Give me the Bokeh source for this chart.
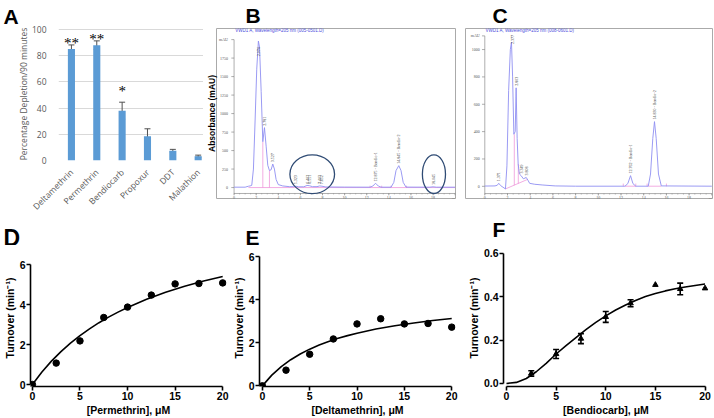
import numpy as np
from bokeh.plotting import figure
from bokeh.models import (Range1d, FixedTicker, ColumnDataSource, Whisker, Label,
                          TeeHead, NumeralTickFormatter, Title)
from bokeh.layouts import row, column
from bokeh.embed import file_html
from bokeh.resources import INLINE

# ---------------- Panel A data ----------------
insecticides = ["Deltamethrin", "Permethrin", "Bendiocarb", "Propoxur", "DDT", "Malathion"]
depletion = [85.0, 88.0, 38.0, 18.5, 7.5, 3.3]
depletion_err = [3.2, 3.3, 6.5, 5.7, 1.0, 0.8]
significance = ["**", "**", "*", "", "", ""]
depletion_ticks = [0, 20, 40, 60, 80, 100]

# ---------------- Panel B chromatogram ----------------
b_time = [0, 1.0, 1.3, 1.45, 1.6, 1.75, 1.9, 2.05, 2.2, 2.3, 2.45, 2.6, 2.75, 2.9, 3.05,
          3.2, 3.35, 3.5, 3.65, 3.8, 4.0, 4.4, 5.0, 5.4, 5.6, 5.85, 6.3, 6.6, 6.8, 7.1,
          7.5, 7.75, 7.95, 8.3, 10.0, 12.3, 12.55, 12.8, 13.05, 13.3, 14.2, 14.45, 14.65,
          14.9, 15.1, 15.3, 15.55, 17.7, 18.0, 18.3, 20.0]
b_abs = [5, 5, 18, 22, 30, 250, 900, 1600, 1980, 1900, 1300, 620, 810, 560, 300,
         230, 240, 318, 250, 110, 40, 22, 12, 12, 18, 10, 10, 28, 25, 12,
         12, 22, 18, 8, 6, 5, 20, 58, 20, 5, 5, 70, 230,
         296, 230, 70, 6, 5, 10, 5, 5]
b_peak_time = [2.2, 2.75, 3.5, 5.6, 6.6, 6.8, 7.75, 7.95, 12.8, 14.9, 18.0]
b_peak_abs = [1980, 810, 318, 18, 28, 25, 22, 18, 58, 296, 10]
b_peak_label = ["2.074", "2.781", "3.527", "5.323", "6.402", "6.551", "7.403", "7.652",
                "12.875 - Bendio-1", "14.845 - Bendio-2", "18.045"]
b_yticks = [0, 250, 500, 750, 1000, 1250, 1500, 1750, 2000]
b_ytick_labels = ["0", "250", "500", "750", "1000", "1250", "1500", "1750", "mAU"]
b_xticks = [0, 2, 4, 6, 8, 10, 12, 14, 16, 18, 20]
b_xtick_labels = ["0", "2", "4", "6", "8", "10", "12", "14", "16", "18", "min"]
b_pink_x0 = [1.3, 2.6, 3.2, 12.3, 13.35, 14.2, 15.6]
b_pink_y0 = [0, 0, 0, 0, 0, 0, 0]
b_pink_x1 = [20.0, 2.6, 3.2, 12.3, 13.35, 14.2, 15.6]
b_pink_y1 = [0, 620, 230, 25, 25, 25, 25]
b_circle_time = [7.07, 18.08]
b_circle_abs = [181, 181]
b_circle_w = [4.04, 2.09]
b_circle_h = [524, 524]

# ---------------- Panel C chromatogram ----------------
c_time = [0, 0.9, 1.1, 1.23, 1.4, 1.82, 1.95, 2.1, 2.25, 2.35, 2.45, 2.56, 2.68, 2.76,
          2.85, 2.94, 3.05, 3.2, 3.4, 3.65, 3.8, 3.95, 4.4, 5.05, 6.2, 8.0, 12.35, 12.6,
          12.84, 13.05, 13.3, 14.4, 14.6, 14.8, 14.95, 15.1, 15.3, 15.55, 20.0]
c_abs = [2, 3, 8, 22, 5, -19, 150, 700, 1000, 1055, 800, 381, 400, 720,
         350, 163, 90, 78, 55, 65, 45, 22, 15, 10, 3, 1, 1, 20,
         78, 20, 1, 1, 90, 350, 473, 350, 90, 3, 1]
c_peak_time = [1.23, 2.45, 2.76, 3.2, 3.65, 12.84, 14.95]
c_peak_abs = [22, 1055, 720, 78, 65, 78, 473]
c_peak_label = ["1.371", "2.377", "2.803", "3.349", "3.808",
                "12.762 - Bendio-1", "14.830 - Bendio-2"]
c_yticks = [0, 200, 400, 600, 800, 1000, 1100]
c_ytick_labels = ["0", "200", "400", "600", "800", "1000", "mAU"]
c_xticks = [0, 2, 4, 6, 8, 10, 12, 14, 16, 18, 20]
c_xtick_labels = ["0", "2", "4", "6", "8", "10", "12", "14", "16", "18", "min"]
c_pink_x0 = [1.82, 2.6, 2.95, 12.2, 13.3, 14.3, 16.0, 12.35, 14.4]
c_pink_y0 = [-19, 8, 20, 0, 0, 0, 0, 1, 1]
c_pink_x1 = [3.75, 2.6, 2.95, 12.2, 13.3, 14.3, 16.0, 13.3, 15.55]
c_pink_y1 = [50, 381, 163, 20, 20, 20, 20, 1, 1]

# ---------------- Panels D, E, F ----------------
conc = [0, 2.5, 5, 7.5, 10, 12.5, 15, 17.5, 20]
perm_turnover = [0, 1.07, 2.18, 3.35, 3.87, 4.47, 5.03, 5.05, 5.08]
fit_conc = [0, 1, 2, 3, 4, 5, 6, 7, 8, 9, 10, 12, 14, 16, 18, 20]
perm_fit = [0, 0.624, 1.168, 1.645, 2.069, 2.446, 2.785, 3.09, 3.367, 3.62, 3.851,
            4.259, 4.607, 4.908, 5.171, 5.403]
delta_turnover = [0, 0.73, 1.47, 2.18, 2.88, 3.12, 2.88, 2.90, 2.73]
delta_fit = [0, 0.498, 0.894, 1.215, 1.482, 1.707, 1.898, 2.064, 2.209, 2.336, 2.449,
             2.641, 2.797, 2.926, 3.036, 3.130]
bend_conc = [2.5, 5, 7.5, 10, 12.5, 15, 17.5, 20]
bend_turnover = [0.046, 0.136, 0.207, 0.307, 0.370, 0.455, 0.436, 0.439]
bend_err = [0.013, 0.021, 0.023, 0.025, 0.016, 0.0, 0.027, 0.0]
bend_fit_conc = [0, 1, 2, 3, 4, 5, 6, 7, 8, 9, 10, 11, 12, 13, 14, 15, 16, 17, 18, 19, 20]
bend_fit = [0, 0.005, 0.023, 0.054, 0.093, 0.136, 0.175, 0.212, 0.248, 0.282, 0.312,
            0.339, 0.362, 0.383, 0.401, 0.415, 0.427, 0.437, 0.445, 0.452, 0.459]
conc_ticks = [0, 5, 10, 15, 20]
turnover_ticks = [0, 2, 4, 6]
bend_ticks = [0, 0.2, 0.4, 0.6]


def make_fig(width, height, xr, yr, mb, letter=None, offset=0, standoff=0,
             xloc="below", yloc="left"):
    title = None
    if letter is not None:
        title = Title(text=letter, align="left", offset=offset, standoff=standoff,
                      text_font="Liberation Sans", text_font_style="bold",
                      text_font_size="21px", text_color="black")
    p = figure(width=width, height=height, x_range=Range1d(*xr), y_range=Range1d(*yr),
               output_backend="svg", toolbar_location=None, title=title,
               x_axis_location=xloc, y_axis_location=yloc,
               min_border_left=mb[0], min_border_right=mb[1],
               min_border_top=mb[2], min_border_bottom=mb[3])
    p.background_fill_color = "white"
    p.border_fill_color = "white"
    return p


# ================= Panel A =================
A_W, A_H, A_MB = 203, 218, (58, 0, 27, 57)
pa = make_fig(A_W, A_H, (-0.51, 5.21), (0, 101.5), A_MB, "A", -55, 0)
a_x = list(range(len(insecticides)))
pa.outline_line_color = None
pa.xgrid.grid_line_color = None
pa.ygrid.grid_line_color = "#d9d9d9"
pa.ygrid.ticker = FixedTicker(ticks=depletion_ticks)
pa.yaxis.ticker = FixedTicker(ticks=depletion_ticks)
pa.xaxis.ticker = FixedTicker(ticks=a_x)
pa.xaxis.major_label_overrides = {i: n for i, n in enumerate(insecticides)}
pa.xaxis.major_label_orientation = np.pi / 4
for ax in (pa.xaxis[0], pa.yaxis[0]):
    ax.axis_line_color = None
    ax.major_tick_line_color = None
    ax.minor_tick_line_color = None
    ax.major_label_text_font = "Open Sans"
    ax.major_label_text_color = "#595959"
pa.yaxis.major_label_text_font_size = "8.5px"
pa.xaxis.major_label_text_font_size = "8.5px"
pa.yaxis.major_label_standoff = 6
pa.xaxis.major_label_standoff = 4
pa.yaxis.axis_label = "Percentage Depletion/90 minutes"
pa.yaxis.axis_label_text_font = "Open Sans"
pa.yaxis.axis_label_text_font_style = "normal"
pa.yaxis.axis_label_text_font_size = "8.5px"
pa.yaxis.axis_label_text_color = "#595959"
pa.yaxis.axis_label_standoff = 0
pa.vbar(x=a_x, top=depletion, width=0.28, fill_color="#5b9bd5", line_color=None)
a_upper = [v + e for v, e in zip(depletion, depletion_err)]
a_src = ColumnDataSource(dict(
    x=a_x, upper=a_upper,
    lower=[v - e for v, e in zip(depletion, depletion_err)]))
pa.add_layout(Whisker(source=a_src, base="x", upper="upper", lower="lower",
                      line_color="#505050", line_width=1,
                      upper_head=TeeHead(size=6, line_color="#505050", line_width=1),
                      lower_head=TeeHead(size=6, line_color="#505050", line_width=1)))
# significance marks sit a little above each error bar
pa.text(x=a_x, y=[u + 0.15 * (100 - u) for u in a_upper], text=significance,
        text_align="center", text_baseline="middle", text_font_size="15px",
        text_font="Liberation Sans", text_color="black")


# ================= chromatogram helpers =================
def inner_axes(p, xticks, xlabels, yticks, ylabels, axis_y, tlx, tly, ldx, ldy):
    gray = "#777777"
    n = len(yticks)
    p.segment(x0=[0], y0=[axis_y], x1=[0], y1=[yticks[-1]], line_color=gray, line_width=0.6)
    p.segment(x0=[-tlx] * n, y0=yticks, x1=[0] * n, y1=yticks, line_color=gray, line_width=0.6)
    p.text(x=[-ldx] * n, y=yticks, text=ylabels, text_align="right", text_baseline="middle",
           text_font_size="4px", text_color="#555555", text_font="Liberation Sans")
    p.segment(x0=[0], y0=[axis_y], x1=[xticks[-1]], y1=[axis_y], line_color=gray, line_width=0.6)
    minor = np.arange(0, xticks[-1] + 0.01, 0.5)
    p.segment(x0=minor, y0=[axis_y] * len(minor), x1=minor, y1=[axis_y - tly * 0.5] * len(minor),
              line_color=gray, line_width=0.5)
    m = len(xticks)
    p.segment(x0=xticks, y0=[axis_y] * m, x1=xticks, y1=[axis_y - tly] * m,
              line_color=gray, line_width=0.6)
    p.text(x=xticks, y=[axis_y - ldy] * m, text=xlabels, text_align="center", text_baseline="top",
           text_font_size="4px", text_color="#555555", text_font="Liberation Sans")


TRACE = "#8f8ff2"
PINK = "#ec8ad6"

# ================= Panel B =================
B_W, B_H, B_MB = 257, 212, (11, 5, 27, 14)
pb = make_fig(B_W, B_H, (-1.59, 20.03), (-148, 2150), B_MB, "B", 29, 3, xloc=None)
pb.outline_line_color = "#aaaaaa"
pb.xgrid.grid_line_color = None
pb.ygrid.grid_line_color = None
pb.yaxis.ticker = FixedTicker(ticks=[])
pb.yaxis.major_label_text_font_size = "0px"
pb.yaxis.major_tick_line_color = None
pb.yaxis.minor_tick_line_color = None
pb.yaxis.axis_line_color = None
pb.yaxis.major_label_standoff = 0
pb.yaxis.axis_label = "Absorbance (mAU)"
pb.yaxis.axis_label_text_font = "Liberation Sans"
pb.yaxis.axis_label_text_font_style = "bold"
pb.yaxis.axis_label_text_font_size = "8.5px"
pb.yaxis.axis_label_text_color = "black"
pb.yaxis.axis_label_standoff = 0
inner_axes(pb, b_xticks, b_xtick_labels, b_yticks, b_ytick_labels, -80, 0.25, 25, 0.55, 35)
pb.segment(x0=b_pink_x0, y0=b_pink_y0, x1=b_pink_x1, y1=b_pink_y1, line_color=PINK, line_width=0.7)
pb.line(b_time, b_abs, line_color=TRACE, line_width=0.9)
pb.text(x=b_peak_time, y=np.minimum(np.array(b_peak_abs) + 25, 1775), text=b_peak_label,
        angle=np.pi / 2, text_align="left", text_baseline="middle", text_font_size="4px",
        text_color="#444444", text_font="Liberation Sans")
pb.ellipse(x=b_circle_time, y=b_circle_abs, width=b_circle_w, height=b_circle_h,
           fill_color=None, line_color="#2f4b74", line_width=1.3)
pb.add_layout(Label(x=0.1, y=2120, text="VWD1 A, Wavelength=205 nm (005-0501.D)",
                    text_font_size="4.5px", text_color="#4a4adb", text_baseline="middle",
                    text_font="Liberation Sans"))

# ================= Panel C =================
C_W, C_H, C_MB = 254, 212, (5, 2, 27, 14)
pc = make_fig(C_W, C_H, (-1.70, 20.06), (-89, 1154), C_MB, "C", 27, 3, xloc=None, yloc=None)
pc.outline_line_color = "#aaaaaa"
pc.xgrid.grid_line_color = None
pc.ygrid.grid_line_color = None
inner_axes(pc, c_xticks, c_xtick_labels, c_yticks, c_ytick_labels, -53, 0.25, 14, 0.45, 20)
pc.segment(x0=c_pink_x0, y0=c_pink_y0, x1=c_pink_x1, y1=c_pink_y1, line_color=PINK, line_width=0.7)
pc.line(c_time, c_abs, line_color=TRACE, line_width=0.9)
pc.text(x=c_peak_time, y=np.minimum(np.array(c_peak_abs) + 15, 1040), text=c_peak_label,
        angle=np.pi / 2, text_align="left", text_baseline="middle", text_font_size="4px",
        text_color="#444444", text_font="Liberation Sans")
pc.add_layout(Label(x=0.06, y=1140, text="VWD1 A, Wavelength=205 nm (008-0601.D)",
                    text_font_size="4.5px", text_color="#4a4adb", text_baseline="middle",
                    text_font="Liberation Sans"))

# ================= letter strip for panels D, E, F =================
STRIP_W, STRIP_H = 714, 27
strip = make_fig(STRIP_W, STRIP_H, (0, STRIP_W), (0, STRIP_H), (0, 0, 0, 0),
                 xloc=None, yloc=None)
strip.outline_line_color = None
strip.xgrid.grid_line_color = None
strip.ygrid.grid_line_color = None
for lx, ly, lt, fs in ((3, 8, "D", "23px"), (245, 8, "E", "21px"), (492, 16, "F", "21px")):
    strip.add_layout(Label(x=lx, y=ly, text=lt, text_font="Liberation Sans",
                           text_font_style="bold", text_font_size=fs,
                           text_baseline="alphabetic", text_align="left", text_color="black"))


# ================= Prism-style panels =================
def style_prism(p, xlabel, ylabel, yticks):
    p.outline_line_color = None
    p.xgrid.grid_line_color = None
    p.ygrid.grid_line_color = None
    p.xaxis.ticker = FixedTicker(ticks=conc_ticks)
    p.yaxis.ticker = FixedTicker(ticks=yticks)
    p.xaxis.bounds = (conc_ticks[0], conc_ticks[-1])
    p.yaxis.bounds = (yticks[0], yticks[-1])
    for ax in (p.xaxis[0], p.yaxis[0]):
        ax.axis_line_width = 1.6
        ax.axis_line_color = "black"
        ax.major_tick_line_width = 1.6
        ax.major_tick_line_color = "black"
        ax.major_tick_in = 0
        ax.major_tick_out = 4
        ax.minor_tick_line_color = None
        ax.major_label_text_font = "Liberation Sans"
        ax.major_label_text_font_style = "bold"
        ax.major_label_text_font_size = "10.5px"
        ax.major_label_text_color = "black"
        ax.major_label_standoff = 1
        ax.axis_label_text_font = "Liberation Sans"
        ax.axis_label_text_font_style = "bold"
        ax.axis_label_text_font_size = "10.5px"
        ax.axis_label_text_color = "black"
        ax.axis_label_standoff = 1
    p.xaxis.axis_label = xlabel
    p.yaxis.axis_label = ylabel


BOT_H = 418 - A_H - STRIP_H
D_W, D_MB = 229, (30, 3, 4, 32)
pd_ = make_fig(D_W, BOT_H, (-0.2, 20.4), (-0.1, 6.75), D_MB)
style_prism(pd_, "[Permethrin], μM", "Turnover (min⁻¹)", turnover_ticks)
pd_.line(fit_conc, perm_fit, line_color="black", line_width=1.6)
pd_.scatter(conc, perm_turnover, marker="circle", size=6.5, color="black")

E_W, E_MB = 233, (29, 7, 4, 32)
pe = make_fig(E_W, BOT_H, (-0.3, 20.4), (-0.03, 6.34), E_MB)
style_prism(pe, "[Deltamethrin], μM", "Turnover (min⁻¹)", turnover_ticks)
pe.line(fit_conc, delta_fit, line_color="black", line_width=1.6)
pe.scatter(conc, delta_turnover, marker="circle", size=6.5, color="black")

F_W, F_MB = 252, (41, 6, 4, 32)
pf = make_fig(F_W, BOT_H, (-0.3, 20.35), (-0.014, 0.618), F_MB)
style_prism(pf, "[Bendiocarb], μM", "Turnover (min⁻¹)", bend_ticks)
pf.yaxis.formatter = NumeralTickFormatter(format="0.0")
pf.line(bend_fit_conc, bend_fit, line_color="black", line_width=1.6)
has_err = [i for i, e in enumerate(bend_err) if e > 0]
f_src = ColumnDataSource(dict(
    x=[bend_conc[i] for i in has_err],
    upper=[bend_turnover[i] + bend_err[i] for i in has_err],
    lower=[bend_turnover[i] - bend_err[i] for i in has_err]))
pf.add_layout(Whisker(source=f_src, base="x", upper="upper", lower="lower",
                      line_color="black", line_width=1.6,
                      upper_head=TeeHead(size=6, line_color="black", line_width=1.6),
                      lower_head=TeeHead(size=6, line_color="black", line_width=1.6)))
pf.scatter(bend_conc, bend_turnover, marker="triangle", size=5.5, color="black")

layout = column(row(column(pa), column(pb), column(pc)),
                strip,
                row(column(pd_), column(pe), column(pf)))
open("out.html", "w").write(file_html(layout, INLINE))
